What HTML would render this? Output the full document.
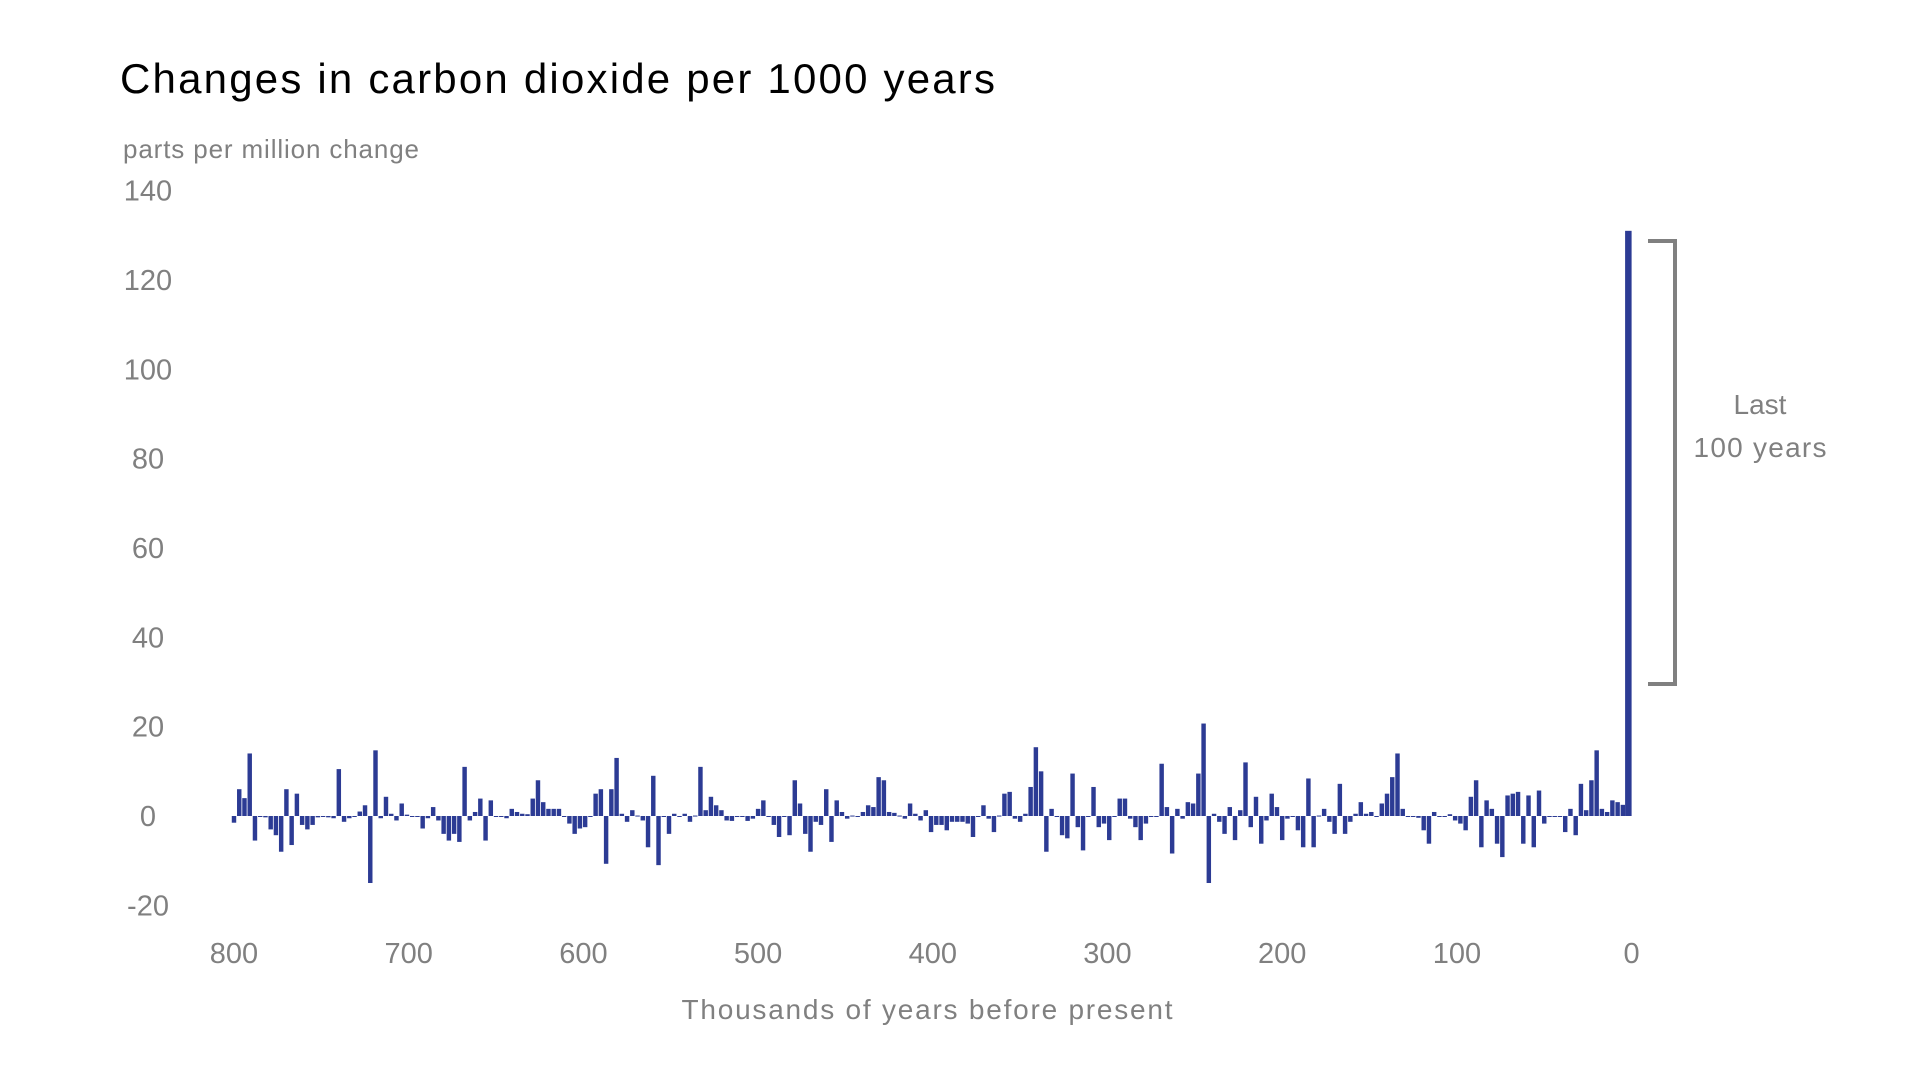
<!DOCTYPE html>
<html><head><meta charset="utf-8"><style>
html,body{margin:0;padding:0;background:#fff;}
svg{display:block;font-family:"Liberation Sans",sans-serif;}
</style></head><body>
<svg width="1920" height="1080" viewBox="0 0 1920 1080">
<text x="120" y="93" font-size="42" fill="#000" textLength="875" lengthAdjust="spacing">Changes in carbon dioxide per 1000 years</text>
<text x="123" y="158" font-size="26" fill="#808080" textLength="296" lengthAdjust="spacing">parts per million change</text>
<g id="yticks"></g>
<g id="xticks"></g>
<g id="bars"></g>
<text x="927" y="1019" font-size="28" fill="#808080" text-anchor="middle" textLength="491" lengthAdjust="spacing">Thousands of years before present</text>
<path d="M1648 241 H1675 V684 H1648" fill="none" stroke="#808080" stroke-width="4"/>
<text x="1760" y="414" font-size="28" fill="#808080" text-anchor="middle">Last</text>
<text x="1760" y="457" font-size="28" fill="#808080" text-anchor="middle" textLength="133" lengthAdjust="spacing">100 years</text>
</svg>
<script>
const yTickValues = [-20, 0, 20, 40, 60, 80, 100, 120, 140];
const xTickValues = [800, 700, 600, 500, 400, 300, 200, 100, 0];
const startKyr = 800;
const stepKyr = 3;
const changes = [
-1.5,6,4,14,-5.5,0,-0.3,-3,-4.3,-8,6,-6.5,5,-2,-3,-2,-0.3,0,-0.3,-0.5,10.5,-1.3,-0.5,0,1,2.4,-15,14.7,-0.5,4.3,0.5,-1,2.8,0.3,-0.2,-0.2,-2.8,-0.5,2,-1,-4,-5.5,-4,-5.8,11,-1,0.9,3.9,-5.5,3.5,-0.2,-0.2,-0.5,1.6,
0.9,0.5,0.4,3.9,8,3.1,1.6,1.6,1.6,-0.2,-1.7,-4,-2.8,-2.5,-0.2,5,6,-10.7,6,13,0.5,-1.3,1.3,0.1,-1,-7,9,-11,-0.2,-4,0.5,0,0.5,-1.3,0.1,11,1.3,4.3,2.4,1.3,-1,-1.1,-0.2,-0.2,-1.1,-0.6,1.6,3.5,0,-2,-4.7,-0.2,-4.3,8,2.8,
-4,-8,-1.3,-2,6,-5.8,3.5,0.9,-0.6,0.1,0,0.9,2.4,2,8.7,8,0.9,0.7,0.1,-0.6,2.8,0.5,-1,1.3,-3.6,-2,-2,-3.2,-1.3,-1.3,-1.3,-1.7,-4.7,-0.2,2.4,-0.6,-3.6,0.1,5,5.4,-0.6,-1.3,0.5,6.5,15.4,10,-8,1.6,-0.2,-4.3,-5,9.5,-2.5,-7.7,
-0.2,6.5,-2.5,-1.7,-5.4,-0.2,3.9,3.9,-0.6,-2.5,-5.4,-1.7,-0.2,-0.2,11.7,2,-8.4,1.6,-0.6,3.1,2.8,9.5,20.7,-15,0.5,-1.3,-4,2,-5.4,1.3,12,-2.5,4.3,-6.2,-1,5,2,-5.4,-0.6,-0.2,-3.2,-7,8.4,-7,0.1,1.6,-1.3,-4,7.2,-4,-1.3,0.5,3.1,0.5,
0.9,-0.2,2.8,5,8.7,14,1.6,-0.2,-0.2,-0.4,-3.2,-6.2,0.9,-0.2,-0.2,0.4,-1,-1.7,-3.2,4.3,8,-7,3.5,1.6,-6.2,-9.2,4.6,5,5.4,-6.2,4.6,-7,5.7,-1.7,-0.2,-0.2,-0.2,-3.6,1.6,-4.3,7.2,1.3,8,14.7,1.6,0.9,3.5,3.1,2.5,2
];
const lastCenturyValue = 131;

const NS = "http://www.w3.org/2000/svg";
const zeroY = 816, pxPerPpm = 4.467;
const x0 = 234, pxPerKyr = 1.747;
function yScale(v){ return zeroY - v * pxPerPpm; }
function xScale(k){ return x0 + (startKyr - k) * pxPerKyr; }

const yg = document.getElementById('yticks');
yTickValues.forEach(v => {
  const t = document.createElementNS(NS, 'text');
  t.setAttribute('x', 148);
  t.setAttribute('y', yScale(v) + 10);
  t.setAttribute('font-size', '29');
  t.setAttribute('fill', '#808080');
  t.setAttribute('text-anchor', 'middle');
  t.textContent = v;
  
  
  yg.appendChild(t);
});
const xg = document.getElementById('xticks');
xTickValues.forEach(k => {
  const t = document.createElementNS(NS, 'text');
  t.setAttribute('x', xScale(k));
  t.setAttribute('y', 963);
  t.setAttribute('font-size', '29');
  t.setAttribute('fill', '#808080');
  t.setAttribute('text-anchor', 'middle');
  t.textContent = k;
  
  
  xg.appendChild(t);
});
const bg = document.getElementById('bars');
const bw = stepKyr * pxPerKyr;
changes.forEach((v, i) => {
  const k = startKyr - i * stepKyr;
  const r = document.createElementNS(NS, 'rect');
  const y1 = yScale(Math.max(v, 0)), y2 = yScale(Math.min(v, 0));
  r.setAttribute('x', xScale(k) - bw / 2 + 0.4);
  r.setAttribute('width', bw - 0.8);
  r.setAttribute('y', y1);
  r.setAttribute('height', Math.max(y2 - y1, 1));
  r.setAttribute('fill', '#2c3b94');
  
  
  bg.appendChild(r);
});
const big = document.createElementNS(NS, 'rect');
big.setAttribute('x', xScale(0) - 6.5);
big.setAttribute('width', 6.5);
big.setAttribute('y', yScale(lastCenturyValue));
big.setAttribute('height', yScale(0) - yScale(lastCenturyValue));
big.setAttribute('fill', '#2c3b94');


bg.appendChild(big);
</script>
</body></html>
